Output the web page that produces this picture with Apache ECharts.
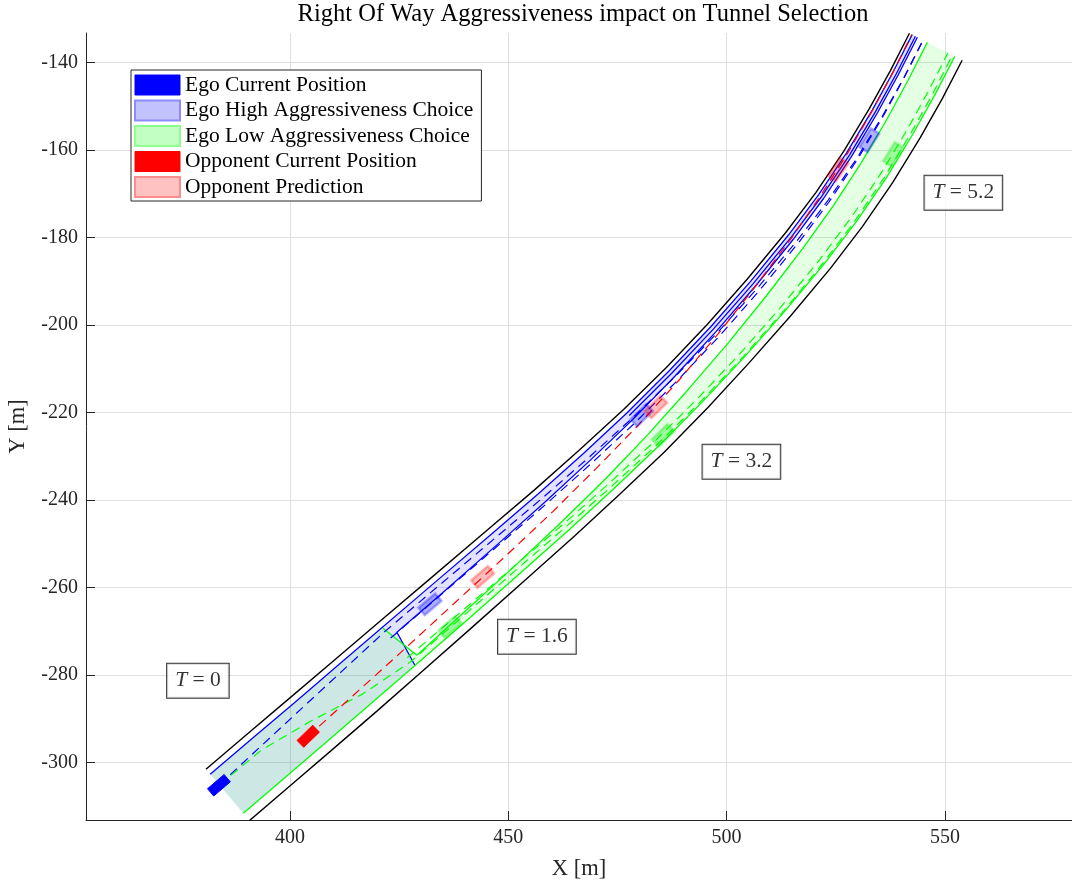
<!DOCTYPE html>
<html>
<head>
<meta charset="utf-8">
<script src="https://cdn.jsdelivr.net/npm/echarts@6/dist/echarts.min.js"></script>
<style>
  html, body { margin: 0; padding: 0; background: #fff; }
  #chart { width: 1072px; height: 882px; }
</style>
</head>
<body>
<div id="chart"></div>
<script>
// ---- Track geometry: left edge of the road, sampled along its length (m) ----
const edgeX = [380.77, 390.38, 400.00, 410.08, 420.15, 432.06, 445.34, 456.01, 466.29, 476.41,
               486.21, 495.67, 504.76, 513.51, 520.40, 526.81, 532.72, 537.48, 541.88];
const edgeY = [-301.60, -293.43, -285.27, -276.71, -268.16, -258.05, -246.77, -237.69, -228.59, -219.32,
               -209.69, -199.74, -189.47, -178.88, -169.76, -160.27, -150.45, -141.85, -133.25];

// Lateral offset (m, to the right of the left edge) of every drawn line at each station; null = not drawn
const rightEdgeD  = [15.4, 15.35, 15.3, 15.2, 15.0, 14.7, 14.3, 14.0, 13.7, 13.5, 13.2, 13.0, 13.0, 13.1, 13.2, 13.3, 13.4, 13.5, 13.55];
const blueOuterD  = [1.5, 1.5, 1.5, 1.45, 1.4, 1.35, 1.3, 1.25, 1.2, 1.1, 1.0, 0.95, 0.9, 0.85, 0.8, 0.75, 0.75, 0.7, 0.7];
const blueInnerD  = [null, null, null, null, null, 4.3, 4.0, 3.7, 3.4, 3.1, 2.8, 2.6, 2.45, 2.32, 2.22, 2.14, 2.08, 2.05, 2.04];
const blueThirdD  = [null, null, null, null, null, null, null, null, null, 1.9, 1.8, 1.75, 1.7, 1.65, 1.6, 1.57, 1.55, 1.54, 1.53];
const blueDashD   = [4.7, 4.15, 3.6, 3.05, 2.5, 2.5, 2.55, 2.6, 2.7, 2.8, 2.9, 3.0, 3.1, 3.2, 3.3, 3.4, 3.45, 3.48, 3.48];
const blueDash2D  = [null, null, null, null, 4.5, 4.4, 4.3, 4.2, 4.1, 4.0, 3.9, 3.85, 3.8, 3.75, 3.7, 3.65, 3.6, 3.55, 3.5];
const greenOuterD = [13.2, 13.15, 13.1, 13.0, 12.9, 12.7, 12.4, 12.1, 11.85, 11.6, 11.4, 11.3, 11.3, 11.35, 11.4, 11.5, 11.55, 11.6, 11.67];
const greenInnerD = [null, null, null, null, null, 10.9, 10.3, 9.6, 8.9, 8.0, 7.1, 6.4, 5.8, 5.3, 5.0, 4.8, 4.7, 4.62, 4.6];
const greenDashD  = [4.7, 4.9, 7.1, 10.1, 11.6, 11.4, 11.2, 11.1, 11.1, 11.1, 11.08, 11.07, 11.06, 11.05, 11.05, 11.05, 11.05, 11.05, 11.05];
const greenDash2D = [null, null, null, null, 10.4, 10.35, 10.3, 10.25, 10.2, 10.15, 10.1, 10.05, 10.0, 9.95, 9.9, 9.9, 9.9, 9.9, 9.9];
const redDashD    = [null, null, 9.3, 8.9, 8.5, 7.9, 7.2, 6.5, 5.7, 4.9, 4.1, 3.3, 2.5, 1.8, 1.3, 1.0, 0.8, 0.7, 0.6];

// Corners where the first tunnel segment ends (T = 1.6)
const blueBandStart = [421.53, -269.12];
const blueCap  = [[424.50, -270.26], [428.62, -277.81]];
const greenCap = [[421.30, -269.35], [429.08, -275.52]];
const greenBandCorner = [430.14, -276.51];

// ---- Vehicles: [x, y, heading in degrees] ----
const egoNow = [383.74, -305.26, 40.4];
const oppNow = [404.19, -294.05, 44.0];
const egoHighX = [432.06, 480.54, 532.65], egoHighY = [-263.86, -220.63, -157.73], egoHighHdg = [40.5, 44.5, 58.0];
const egoLowX  = [436.64, 485.48, 538.15], egoLowY  = [-269.05, -225.20, -160.93], egoLowHdg  = [41.0, 45.0, 58.0];
const oppPredX = [444.13, 483.81, 525.56], oppPredY = [-257.61, -218.73, -164.43], oppPredHdg = [41.0, 44.5, 55.0];
const carLength = 5.0, carWidth = 2.2;

// ---- Time labels ----
const timeText = ['0', '1.6', '3.2', '5.2'];
const timeX = [378.93, 456.56, 503.39, 554.22];
const timeY = [-281.35, -271.29, -231.26, -169.73];

// ---- Axes ----
const xTicks = [400, 450, 500, 550];
const yTicks = [-300, -280, -260, -240, -220, -200, -180, -160, -140];

// ---------------------------------------------------------------
const N = edgeX.length;
const tang = edgeX.map((_, i) => {
  const a = Math.max(i - 1, 0), b = Math.min(i + 1, N - 1);
  const dx = edgeX[b] - edgeX[a], dy = edgeY[b] - edgeY[a];
  const l = Math.hypot(dx, dy);
  return [dx / l, dy / l];
});
// point at station i, offset d metres to the right of the left edge
function at(i, d) {
  const [tx, ty] = tang[i];
  return [edgeX[i] + d * ty, edgeY[i] - d * tx];
}
function trace(offsets, lead) {
  const pts = lead ? lead.slice() : [];
  offsets.forEach((d, i) => { if (d !== null) pts.push(at(i, d)); });
  return pts;
}
function traceRange(offsets, from, to) {
  const pts = [];
  if (from <= to) { for (let i = from; i <= to; i++) pts.push(at(i, offsets[i])); }
  else { for (let i = from; i >= to; i--) pts.push(at(i, offsets[i])); }
  return pts;
}

const leftEdge = edgeX.map((x, i) => [x, edgeY[i]]);
const rightEdge = trace(rightEdgeD);

// Tunnel areas
const tunnels = [
  { pts: [at(0, blueOuterD[0]), blueBandStart, blueCap[0], blueCap[1], at(0, greenOuterD[0])], fill: 'rgba(0,0,255,0.10)' },
  { pts: [at(0, blueOuterD[0]), greenCap[0], greenCap[1], greenBandCorner, at(0, greenOuterD[0])], fill: 'rgba(0,255,0,0.10)' },
  { pts: [blueBandStart].concat(traceRange(blueOuterD, 5, N - 1), traceRange(blueInnerD, N - 1, 5), [blueCap[0]]), fill: 'rgba(0,0,255,0.11)' },
  { pts: [greenCap[1]].concat(traceRange(greenInnerD, 5, N - 1), traceRange(greenOuterD, N - 1, 5), [greenBandCorner]), fill: 'rgba(0,255,0,0.10)' }
];

function line(pts, color, dashed, width, z) {
  return {
    type: 'line', data: pts, symbol: 'none', showSymbol: false, silent: true, animation: false,
    z: z || 3, clip: true, emphasis: { disabled: true },
    lineStyle: { color: color, width: width || 1.3, type: dashed ? [9, 6] : 'solid' }
  };
}

function carSeries(name, xs, ys, hs, fill, stroke, lw, blur) {
  return {
    type: 'custom', name: name, z: 5, clip: true, animation: false, silent: true,
    itemStyle: { color: fill, borderColor: stroke },
    data: xs.map((x, i) => [x, ys[i], hs[i]]),
    renderItem: function (params, api) {
      const cx = api.value(0), cy = api.value(1), h = api.value(2) * Math.PI / 180;
      const c = Math.cos(h), s = Math.sin(h), hl = carLength / 2, hw = carWidth / 2;
      const pts = [[hl, hw], [hl, -hw], [-hl, -hw], [-hl, hw]].map(function (p) {
        return api.coord([cx + p[0] * c - p[1] * s, cy + p[0] * s + p[1] * c]);
      });
      return {
        type: 'polygon', shape: { points: pts },
        style: { fill: fill, stroke: stroke, lineWidth: lw, shadowBlur: blur, shadowColor: stroke }
      };
    }
  };
}

const serif = '"Liberation Serif", "Times New Roman", serif';

const chart = echarts.init(document.getElementById('chart'), null, { renderer: 'canvas' });
chart.setOption({
  backgroundColor: '#ffffff',
  animation: false,
  graphic: [{
    type: 'text', x: 583, y: 15, z: 10,
    style: { text: 'Right Of Way Aggressiveness impact on Tunnel Selection', font: '24.5px ' + serif,
             fill: '#000', align: 'center', verticalAlign: 'middle' }
  }],
  grid: { left: 86, top: 33, width: 986, height: 787, containLabel: false, outerBoundsMode: 'none' },
  xAxis: {
    type: 'value', min: 353.3, max: 579.1, minInterval: 50, maxInterval: 50,
    name: 'X [m]', nameLocation: 'middle', nameGap: 38,
    nameTextStyle: { fontFamily: serif, fontSize: 22.5, color: '#262626' },
    axisLine: { show: true, onZero: false, lineStyle: { color: '#262626', width: 1 } },
    axisTick: { show: true, inside: true, length: 9, customValues: xTicks, lineStyle: { color: '#262626' } },
    axisLabel: { show: true, margin: 8, customValues: xTicks, fontFamily: serif, fontSize: 20, color: '#262626' },
    splitLine: { show: true, lineStyle: { color: '#dfdfdf', width: 1 } }
  },
  yAxis: {
    type: 'value', min: -313.2, max: -133.2, minInterval: 20, maxInterval: 20,
    name: 'Y [m]', nameLocation: 'middle', nameGap: 56, nameRotate: 90,
    nameTextStyle: { fontFamily: serif, fontSize: 22.5, color: '#262626' },
    axisLine: { show: true, onZero: false, lineStyle: { color: '#262626', width: 1 } },
    axisTick: { show: true, inside: true, length: 9, customValues: yTicks, lineStyle: { color: '#262626' } },
    axisLabel: { show: true, margin: 8, customValues: yTicks, fontFamily: serif, fontSize: 20, color: '#262626' },
    splitLine: { show: true, lineStyle: { color: '#dfdfdf', width: 1 } }
  },
  legend: {
    orient: 'vertical', left: 131, top: 70, padding: [4, 8, 3, 3], itemGap: 3.5,
    itemWidth: 45, itemHeight: 20, selectedMode: false,
    backgroundColor: '#ffffff', borderColor: '#262626', borderWidth: 1, borderRadius: 0,
    textStyle: { fontFamily: serif, fontSize: 21.5, color: '#000', lineHeight: 20 },
    data: [
      { name: 'Ego Current Position', icon: 'rect', itemStyle: { color: '#0000ff', borderColor: '#0000ff', borderWidth: 1 } },
      { name: 'Ego High Aggressiveness Choice', icon: 'rect', itemStyle: { color: '#c2c2ff', borderColor: '#8c8cff', borderWidth: 2 } },
      { name: 'Ego Low Aggressiveness Choice', icon: 'rect', itemStyle: { color: '#c2ffc2', borderColor: '#8cff8c', borderWidth: 2 } },
      { name: 'Opponent Current Position', icon: 'rect', itemStyle: { color: '#ff0000', borderColor: '#ff0000', borderWidth: 1 } },
      { name: 'Opponent Prediction', icon: 'rect', itemStyle: { color: '#ffc2c2', borderColor: '#ff8c8c', borderWidth: 2 } }
    ]
  },
  series: [
    {
      type: 'custom', z: 1, clip: true, animation: false, silent: true,
      data: tunnels.map((_, i) => i),
      renderItem: function (params, api) {
        const t = tunnels[params.dataIndex];
        return { type: 'polygon', shape: { points: t.pts.map(function (p) { return api.coord(p); }) },
                 style: { fill: t.fill } };
      }
    },
    line(leftEdge, '#000000', false, 1.4),
    line(rightEdge, '#000000', false, 1.4),
    line(trace(blueOuterD), '#0000ff', false),
    line(trace(blueInnerD, [blueCap[0]]), '#0000ff', false),
    line(trace(blueThirdD), '#0000ff', false),
    line(blueCap, '#0000ff', false),
    line(trace(greenOuterD), '#00ff00', false),
    line(trace(greenInnerD, [greenCap[1]]), '#00ff00', false),
    line(greenCap, '#00ff00', false),
    line(trace(blueDashD), '#0000ff', true, 1.2),
    line(trace(blueDash2D), '#0000ff', true, 1.2),
    line(trace(greenDashD), '#00ff00', true, 1.2),
    line(trace(greenDash2D), '#00ff00', true, 1.2),
    line(trace(redDashD, [[oppNow[0], oppNow[1]]]), '#ff0000', true, 1.2),
    carSeries('Ego High Aggressiveness Choice', egoHighX, egoHighY, egoHighHdg, 'rgba(0,0,255,0.25)', 'rgba(0,0,255,0.28)', 2.5, 3),
    carSeries('Ego Low Aggressiveness Choice', egoLowX, egoLowY, egoLowHdg, 'rgba(0,255,0,0.25)', 'rgba(0,230,0,0.28)', 2.5, 3),
    carSeries('Opponent Prediction', oppPredX, oppPredY, oppPredHdg, 'rgba(255,0,0,0.22)', 'rgba(255,0,0,0.25)', 2.5, 3),
    carSeries('Ego Current Position', [egoNow[0]], [egoNow[1]], [egoNow[2]], '#0000ff', '#0000ff', 1, 0),
    carSeries('Opponent Current Position', [oppNow[0]], [oppNow[1]], [oppNow[2]], '#ff0000', '#ff0000', 1, 0),
    {
      type: 'scatter', z: 8, silent: true, animation: false, symbolSize: 0,
      data: timeX.map((x, i) => ({ value: [x, timeY[i]], text: timeText[i] })),
      label: {
        show: true, position: 'inside', align: 'center', verticalAlign: 'middle',
        backgroundColor: '#ffffff', borderColor: '#000000', borderWidth: 1, padding: [6, 8, 6, 8],
        fontFamily: serif, fontSize: 21.5, color: '#000',
        formatter: function (p) { return '{t|T} = ' + p.data.text; },
        rich: { t: { fontFamily: serif, fontStyle: 'italic', fontSize: 21.5, color: '#000' } }
      }
    }
  ]
});
</script>
</body>
</html>
